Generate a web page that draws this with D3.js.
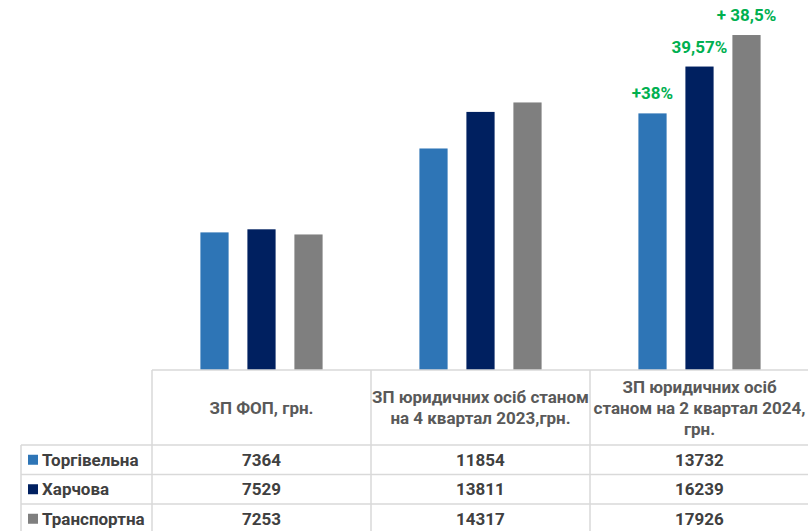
<!DOCTYPE html>
<html>
<head>
<meta charset="utf-8">
<script src="https://cdn.jsdelivr.net/npm/d3@7"></script>
<style>
    body { margin: 0; background: #fff; }
    text { font-family: Roboto, 'Liberation Sans', Arial, sans-serif; font-weight: bold; }
</style>
</head>
<body>
<div id="chart-container"></div>
<script>
'use strict'

// categories (table header), each one split into lines
var categories = [
    ['ЗП ФОП, грн.'],
    ['ЗП юридичних осіб станом', 'на 4 квартал 2023,грн.'],
    ['ЗП юридичних осіб', 'станом на 2 квартал 2024,', 'грн.']
]
var seriesNames = ['Торгівельна', 'Харчова', 'Транспортна']
var seriesColors = ['#2e75b6', '#002060', '#7f7f7f']

var torgivelna = [7364, 11854, 13732]
var kharchova = [7529, 13811, 16239]
var transportna = [7253, 14317, 17926]

// growth labels over the last group
var growthLabels = ['+38%', '39,57%', '+ 38,5%']

var values = [torgivelna, kharchova, transportna]

var width = 808
var height = 531
var baseY = 370
var headerBottom = 445
var rowH = 29.5
var lineColor = '#d9d9d9'

var svg = d3.select('#chart-container')
    .append('svg')
        .attr('width', width)
        .attr('height', height)

var catKeys = categories.map((c, i) => i)

let x0 = d3.scaleBand()
    .domain(catKeys)
    .range([152, 809])

let x1 = d3.scaleBand()
    .domain(seriesNames)
    .range([0, x0.bandwidth()])
    .paddingInner(0.4)
    .paddingOuter(1.03)

let y = d3.scaleLinear()
    .domain([0, 19800])
    .range([baseY, 0])

// bars
var groups = svg.selectAll('.group').data(catKeys)
    .enter().append('g')
        .attr('class', 'group')
        .attr('transform', c => 'translate(' + x0(c) + ',0)')

groups.selectAll('rect')
    .data(c => seriesNames.map((s, si) => ({ s: s, si: si, v: values[si][c] })))
    .enter().append('rect')
        .attr('x', d => x1(d.s))
        .attr('width', x1.bandwidth())
        .attr('y', d => y(d.v))
        .attr('height', d => baseY - y(d.v))
        .attr('fill', d => seriesColors[d.si])

// growth labels on the last group
var lastCat = catKeys[catKeys.length - 1]
svg.selectAll('.growth').data(growthLabels)
    .enter().append('text')
        .attr('class', 'growth')
        .attr('x', (g, si) => x0(lastCat) + x1(seriesNames[si]) + x1.bandwidth() / 2)
        .attr('y', (g, si) => y(values[si][lastCat]) - 14)
        .attr('text-anchor', 'middle')
        .style('font-size', '17px')
        .style('fill', '#00b050')
        .text(g => g)

// table grid
var table = svg.append('g').attr('class', 'table')
    .style('stroke', lineColor)
    .style('stroke-width', 1.5)

table.append('line')
    .attr('x1', x0(0)).attr('x2', width)
    .attr('y1', baseY).attr('y2', baseY)

for (var r = 0; r <= seriesNames.length; r++) {
    let ly = headerBottom + r * rowH
    table.append('line')
        .attr('x1', 21).attr('x2', width)
        .attr('y1', ly).attr('y2', ly)
}

table.append('line')
    .attr('x1', 21).attr('x2', 21)
    .attr('y1', headerBottom).attr('y2', height)

catKeys.forEach(c => {
    table.append('line')
        .attr('x1', x0(c)).attr('x2', x0(c))
        .attr('y1', baseY).attr('y2', height)
})

// header text
var headerMid = (baseY + headerBottom) / 2
catKeys.forEach(c => {
    let lines = categories[c]
    let t = svg.append('text')
        .attr('text-anchor', 'middle')
        .style('font-size', '17px')
        .style('fill', '#595959')
    lines.forEach((ln, li) => {
        t.append('tspan')
            .attr('x', x0(c) + x0.bandwidth() / 2)
            .attr('y', headerMid + (li - (lines.length - 1) / 2) * 21 + 6)
            .text(ln)
    })
})

// rows: legend key, name and values
seriesNames.forEach((s, si) => {
    let cy = headerBottom + si * rowH + rowH / 2
    svg.append('rect')
        .attr('x', 28).attr('y', cy - 5)
        .attr('width', 10).attr('height', 10)
        .attr('fill', seriesColors[si])
    svg.append('text')
        .attr('x', 42).attr('y', cy + 6)
        .style('font-size', '17px')
        .style('fill', '#404040')
        .text(s)
    catKeys.forEach(c => {
        svg.append('text')
            .attr('x', x0(c) + x0.bandwidth() / 2)
            .attr('y', cy + 6)
            .attr('text-anchor', 'middle')
            .style('font-size', '17px')
            .style('fill', '#404040')
            .text(values[si][c])
    })
})
</script>
</body>
</html>
